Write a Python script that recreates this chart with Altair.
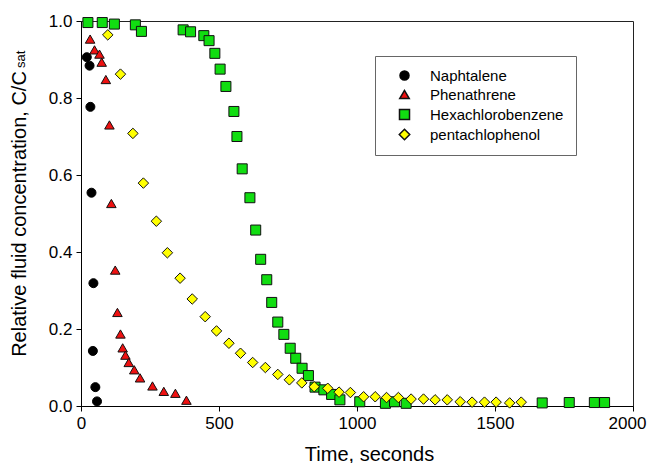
import altair as alt
import pandas as pd

series_names = ["Naphtalene", "Phenathrene", "Hexachlorobenzene", "pentachlophenol"]

naph_t = [21, 31, 34, 38, 45, 43, 52, 58]
naph_c = [0.906, 0.884, 0.777, 0.554, 0.319, 0.143, 0.049, 0.012]

phen_t = [33, 49, 67, 75, 90, 103, 110, 124, 132, 143, 151, 161, 173, 193, 214, 259, 300, 342, 382]
phen_c = [0.953, 0.925, 0.914, 0.893, 0.848, 0.730, 0.526, 0.353, 0.243, 0.187, 0.151,
          0.132, 0.113, 0.094, 0.073, 0.052, 0.038, 0.033, 0.015]

hex_t = [25, 77, 121, 197, 219, 370, 397, 445, 464, 485, 504, 525, 554, 565, 584, 612, 633,
         651, 673, 691, 713, 735, 758, 778, 801, 824, 848, 880, 908, 938, 1010, 1103, 1136,
         1178, 1671, 1769, 1860, 1897]
hex_c = [0.996, 0.996, 0.992, 0.990, 0.973, 0.977, 0.972, 0.962, 0.949, 0.916, 0.875, 0.830,
         0.765, 0.700, 0.616, 0.541, 0.457, 0.381, 0.328, 0.269, 0.218, 0.186, 0.150, 0.124,
         0.098, 0.079, 0.049, 0.042, 0.030, 0.016, 0.011, 0.007, 0.011, 0.007, 0.008, 0.009,
         0.009, 0.009]

penta_t = [97, 143, 188, 226, 273, 313, 359, 403, 450, 491, 536, 578, 622, 668, 713, 755, 800,
           845, 894, 935, 976, 1024, 1066, 1107, 1150, 1196, 1241, 1283, 1327, 1374, 1417,
           1462, 1504, 1553, 1595]
penta_c = [0.964, 0.862, 0.708, 0.579, 0.480, 0.398, 0.332, 0.278, 0.232, 0.195, 0.163, 0.137,
           0.113, 0.100, 0.082, 0.068, 0.060, 0.050, 0.046, 0.036, 0.035, 0.024, 0.024, 0.022,
           0.022, 0.018, 0.018, 0.016, 0.016, 0.011, 0.010, 0.010, 0.010, 0.008, 0.010]

x_ticks = [0, 500, 1000, 1500, 2000]
y_ticks = [0.0, 0.2, 0.4, 0.6, 0.8, 1.0]

rows = []
for name, ts, cs in zip(series_names, [naph_t, phen_t, hex_t, penta_t],
                        [naph_c, phen_c, hex_c, penta_c]):
    for t, c in zip(ts, cs):
        rows.append({"series": name, "time": t, "conc": c})
df = pd.DataFrame(rows)

FONT = "Liberation Sans"

points = alt.Chart(df).mark_point(filled=True, opacity=1, strokeWidth=1).encode(
    x=alt.X("time:Q", scale=alt.Scale(domain=[0, 2000], nice=False),
            axis=alt.Axis(values=x_ticks, title="Time, seconds", format="d",
                          titleX=288, titleY=54, titleBaseline="alphabetic",
                          labelOffset={"condition": {"test": "datum.value == 2000", "value": -6},
                                       "value": 0})),
    y=alt.Y("conc:Q", scale=alt.Scale(domain=[0, 1.0], nice=False),
            axis=alt.Axis(values=y_ticks, title="Relative fluid concentration, C/C",
                          format=".1f", titleX=-56, titleY=192.5,
                          titleBaseline="alphabetic", titleAngle=270)),
    shape=alt.Shape("series:N", scale=alt.Scale(domain=series_names,
                    range=["circle", "triangle-up", "square", "diamond"]),
                    legend=alt.Legend(title=None)),
    fill=alt.Fill("series:N", scale=alt.Scale(domain=series_names,
                  range=["#000000", "#ee1111", "#11dd11", "#ffff00"]),
                  legend=alt.Legend(title=None)),
    stroke=alt.Stroke("series:N", scale=alt.Scale(domain=series_names,
                      range=["#000000", "#111111", "#111111", "#111111"]),
                      legend=alt.Legend(title=None)),
    size=alt.Size("series:N", scale=alt.Scale(domain=series_names,
                  range=[81, 110, 72, 121]),
                  legend=alt.Legend(title=None)),
)

sub = alt.Chart(pd.DataFrame({"t": ["sat"]})).mark_text(
    angle=270, fontSize=13, font=FONT, color="#000", align="left", baseline="alphabetic"
).encode(x=alt.value(-56), y=alt.value(47), text="t:N")

chart = alt.layer(points, sub).properties(
    width=552, height=385,
    autosize=alt.AutoSizeParams(type="none"),
    padding={"left": 73, "top": 13, "right": 15, "bottom": 57},
).configure_view(
    stroke="#222222", strokeWidth=1
).configure_axis(
    grid=False, domainColor="#000", tickColor="#000", tickSize=5,
    labelFont=FONT, labelFontSize=17, labelColor="#000", labelFlush=False,
    titleFont=FONT, titleFontSize=20, titleColor="#000", titleFontWeight="normal",
    labelPadding=4,
).configure_legend(
    orient="none", legendX=294, legendY=35,
    strokeColor="#666666", fillColor="#ffffff", padding=12,
    labelFont=FONT, labelFontSize=15, labelColor="#000",
    symbolOffset=10, rowPadding=3, labelOffset=18,
)

chart.save("out.html", embed_options={"renderer": "svg", "actions": False})
